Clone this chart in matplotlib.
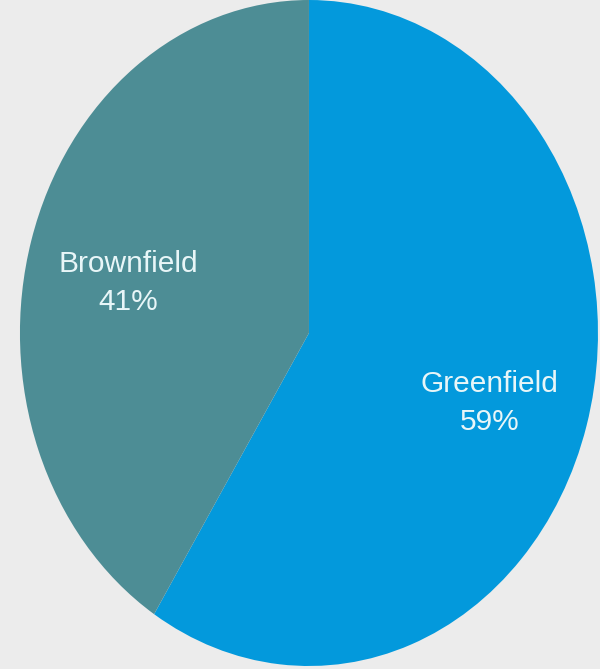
import matplotlib
matplotlib.use("Agg")
import matplotlib.pyplot as plt

labels = ["Greenfield", "Brownfield"]
shares = [59, 41]
colors = ["#0399dc", "#4d8d95"]

plt.rcParams['font.family'] = ['Liberation Sans', 'DejaVu Sans']

fig = plt.figure(figsize=(6.0, 6.69), dpi=100, facecolor="#ececec")
ax = fig.add_axes([0, 0, 1, 1])
ax.set_facecolor("#ececec")

def fmt(pct):
    # pie passes percentages; map back to the category name
    idx = 0 if abs(pct - shares[0]) < 0.5 else 1
    return "%s\n%d%%" % (labels[idx], round(pct))

wedges, texts, autotexts = ax.pie(
    shares, colors=colors, startangle=90, counterclock=False,
    autopct=fmt, pctdistance=0.65, radius=1,
    wedgeprops=dict(linewidth=0),
    textprops=dict(color="#e8f6f8", fontsize=21.5, linespacing=1.45))

# nudge the labels a little lower
for t in autotexts:
    x, y = t.get_position()
    t.set_position((x, y - 0.03))

# stretched (elliptical) pie, axes fill the whole canvas
ax.set_aspect("auto")
ax.set_xlim(-1.069, 1.007)
ax.set_ylim(-1.009, 1.0)
ax.axis("off")

fig.savefig("out.png", dpi=100, facecolor=fig.get_facecolor())
